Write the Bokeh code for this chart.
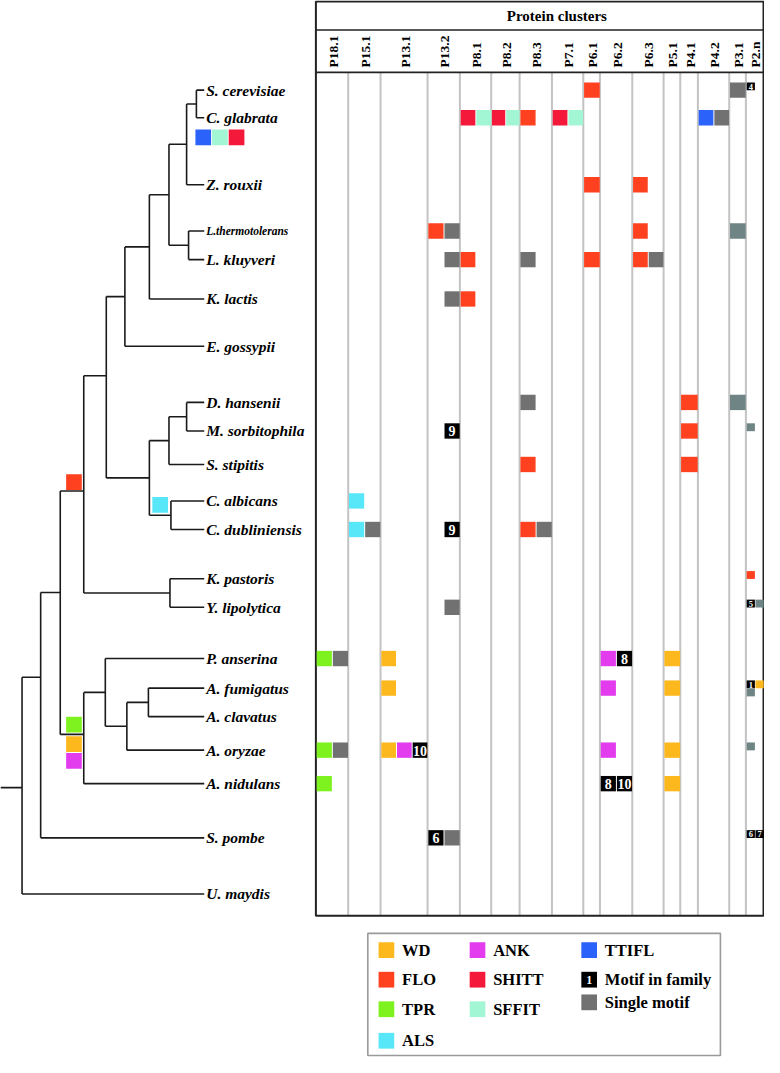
import math
from bokeh.plotting import figure
from bokeh.models import Range1d
from bokeh.embed import file_html
from bokeh.resources import INLINE
from bokeh.core.properties import value

# ---------------- data ----------------
species = ["S. cerevisiae", "C. glabrata", "Z. rouxii", "L.thermotolerans", "L. kluyveri",
           "K. lactis", "E. gossypii", "D. hansenii", "M. sorbitophila", "S. stipitis",
           "C. albicans", "C. dubliniensis", "K. pastoris", "Y. lipolytica", "P. anserina",
           "A. fumigatus", "A. clavatus", "A. oryzae", "A. nidulans", "S. pombe", "U. maydis"]

clusters = ["P18.1", "P15.1", "P13.1", "P13.2", "P8.1", "P8.2", "P8.3", "P7.1", "P6.1",
            "P6.2", "P6.3", "P5.1", "P4.1", "P4.2", "P3.1", "P2.n"]

# motif marks in the matrix: species, cluster, slot within cell, motif type, number label
mark_species = ["S. cerevisiae", "S. cerevisiae",
                "C. glabrata", "C. glabrata", "C. glabrata", "C. glabrata", "C. glabrata",
                "C. glabrata", "C. glabrata", "C. glabrata", "C. glabrata",
                "Z. rouxii", "Z. rouxii",
                "L.thermotolerans", "L.thermotolerans", "L.thermotolerans", "L.thermotolerans",
                "L. kluyveri", "L. kluyveri", "L. kluyveri", "L. kluyveri", "L. kluyveri", "L. kluyveri",
                "K. lactis", "K. lactis",
                "D. hansenii", "D. hansenii", "D. hansenii",
                "M. sorbitophila", "M. sorbitophila",
                "S. stipitis", "S. stipitis",
                "C. albicans",
                "C. dubliniensis", "C. dubliniensis", "C. dubliniensis", "C. dubliniensis", "C. dubliniensis",
                "Y. lipolytica",
                "P. anserina", "P. anserina", "P. anserina", "P. anserina", "P. anserina", "P. anserina",
                "A. fumigatus", "A. fumigatus", "A. fumigatus",
                "A. oryzae", "A. oryzae", "A. oryzae", "A. oryzae", "A. oryzae", "A. oryzae", "A. oryzae",
                "A. nidulans", "A. nidulans", "A. nidulans", "A. nidulans",
                "S. pombe", "S. pombe"]
mark_cluster = ["P6.1", "P3.1",
                "P8.1", "P8.1", "P8.2", "P8.2", "P8.3", "P7.1", "P7.1", "P4.2", "P4.2",
                "P6.1", "P6.3",
                "P13.2", "P13.2", "P6.3", "P3.1",
                "P13.2", "P8.1", "P8.3", "P6.1", "P6.3", "P6.3",
                "P13.2", "P8.1",
                "P8.3", "P4.1", "P3.1",
                "P13.2", "P4.1",
                "P8.3", "P4.1",
                "P15.1",
                "P15.1", "P15.1", "P13.2", "P8.3", "P8.3",
                "P13.2",
                "P18.1", "P18.1", "P13.1", "P6.2", "P6.2", "P5.1",
                "P13.1", "P6.2", "P5.1",
                "P18.1", "P18.1", "P13.1", "P13.1", "P13.1", "P6.2", "P5.1",
                "P18.1", "P6.2", "P6.2", "P5.1",
                "P13.2", "P13.2"]
mark_slot = [0, 0,
             0, 1, 0, 1, 0, 0, 1, 0, 1,
             0, 0,
             0, 1, 0, 0,
             1, 0, 0, 0, 0, 1,
             1, 0,
             0, 0, 0,
             1, 0,
             0, 0,
             0,
             0, 1, 1, 0, 1,
             1,
             0, 1, 0, 0, 1, 0,
             0, 0, 0,
             0, 1, 0, 1, 2, 0, 0,
             0, 0, 1, 0,
             0, 1]
mark_type = ["FLO", "single",
             "SHITT", "SFFIT", "SHITT", "SFFIT", "FLO", "SHITT", "SFFIT", "TTIFL", "single",
             "FLO", "FLO",
             "FLO", "single", "FLO", "single_b",
             "single", "FLO", "single", "FLO", "FLO", "single",
             "single", "FLO",
             "single", "FLO", "single_b",
             "family", "FLO",
             "FLO", "FLO",
             "ALS",
             "ALS", "single", "family", "FLO", "single",
             "single",
             "TPR", "single", "WD", "ANK", "family", "WD",
             "WD", "ANK", "WD",
             "TPR", "single", "WD", "ANK", "family", "ANK", "WD",
             "TPR", "family", "family", "WD",
             "family", "single"]
mark_label = ["", "",
              "", "", "", "", "", "", "", "", "",
              "", "",
              "", "", "", "",
              "", "", "", "", "", "",
              "", "",
              "", "", "",
              "9", "",
              "", "",
              "",
              "", "", "9", "", "",
              "",
              "", "", "", "", "8", "",
              "", "", "",
              "", "", "", "", "10", "", "",
              "", "8", "10", "",
              "6", ""]

# small marks in the narrow P2.n column: species, sub-column, sub-row, type, label
small_species = ["S. cerevisiae", "M. sorbitophila", "K. pastoris", "Y. lipolytica", "Y. lipolytica",
                 "A. fumigatus", "A. fumigatus", "A. fumigatus", "A. oryzae", "S. pombe", "S. pombe"]
small_col = [0, 0, 0, 0, 1, 0, 1, 0, 0, 0, 1]
small_row = [0, 0, 0, 0, 0, 0, 0, 1, 0, 0, 0]
small_type = ["family", "single_b", "FLO", "family", "single_b",
              "family", "WD", "single_b", "single_b", "family", "family"]
small_label = ["4", "", "", "5", "", "1", "", "", "", "6", "7"]

# motifs gained on tree branches
branch_type = ["TTIFL", "SFFIT", "SHITT", "FLO", "ALS", "TPR", "WD", "ANK"]

legend_keys = ["WD", "FLO", "TPR", "ALS", "ANK", "SHITT", "SFFIT", "TTIFL", "family", "single"]
legend_labels = ["WD", "FLO", "TPR", "ALS", "ANK", "SHITT", "SFFIT", "TTIFL",
                 "Motif in family", "Single motif"]

# ---------------- styles / layout ----------------
COLORS = {"WD": "#FDB81E", "FLO": "#FF4120", "TPR": "#7DF21E", "ALS": "#57E7F8",
          "ANK": "#E33CEF", "SHITT": "#F4193A", "SFFIT": "#A2F6D4", "TTIFL": "#2B62FA",
          "family": "#000000", "single": "#717171", "single_b": "#6F8484"}

SERIF = value("Liberation Serif")
ROW_Y = [91, 119, 187, 234, 263, 303, 351, 408, 437, 471, 508, 537, 587, 616,
         668, 698, 727, 761, 795, 850, 907]
COL_EDGES = [322, 355, 388, 436, 469, 501, 530, 563, 595, 612, 645, 677, 694, 712, 744, 761, 779]
PANEL_TOP, TITLE_LINE, HEAD_LINE, PANEL_BOTTOM = 1, 30, 73, 929
LEAF_X = 208
BRANCH_POS = [(199, 131), (216, 131), (233, 131), (67, 481), (155, 504), (67, 727), (67, 747), (67, 764)]

p = figure(width=764, height=1057, x_range=Range1d(0, 780), y_range=Range1d(1073, 0),
           output_backend="svg", toolbar_location=None, min_border=0,
           x_axis_location=None, y_axis_location=None)
p.grid.visible = False
p.outline_line_color = None
p.background_fill_color = "white"

# ---------------- tree ----------------
def N(x, children, y=None):
    return {"x": x, "children": children, "y": y}

tree = N(22, [
    N(41, [
        N(61, [
            N(85, [
                N(108, [
                    N(127, [
                        N(152, [
                            N(172, [
                                N(190, [N(200, ["S. cerevisiae", "C. glabrata"]), "Z. rouxii"]),
                                N(192, ["L.thermotolerans", "L. kluyveri"])]),
                            "K. lactis"]),
                        "E. gossypii"]),
                    N(152, [
                        N(172, [N(190, ["D. hansenii", "M. sorbitophila"]), "S. stipitis"]),
                        N(174, ["C. albicans", "C. dubliniensis"])])], y=381),
                N(173, ["K. pastoris", "Y. lipolytica"])], y=498),
            N(85, [
                N(107, ["P. anserina",
                        N(129, [N(151, ["A. fumigatus", "A. clavatus"]), "A. oryzae"])]),
                "A. nidulans"], y=745)], y=601),
        "S. pombe"], y=687),
    "U. maydis"], y=799)

hx0, hx1, hy = [], [], []
vx, vy0, vy1 = [], [], []

def layout(node):
    if isinstance(node, str):
        return ROW_Y[species.index(node)], LEAF_X
    ys = []
    for ch in node["children"]:
        cy, cx = layout(ch)
        hx0.append(node["x"]); hx1.append(cx); hy.append(cy)
        ys.append(cy)
    vx.append(node["x"]); vy0.append(min(ys)); vy1.append(max(ys))
    y = node["y"] if node["y"] is not None else (min(ys) + max(ys)) / 2
    return y, node["x"]

root_y, root_x = layout(tree)
hx0.append(0); hx1.append(root_x); hy.append(root_y)

p.segment(x0=hx0, y0=hy, x1=hx1, y1=hy, line_color="#1a1a1a", line_width=1.6)
p.segment(x0=vx, y0=vy0, x1=vx, y1=vy1, line_color="#1a1a1a", line_width=1.6)

leaf_y = [ROW_Y[i] for i in range(len(species))]
normal = [i for i, s in enumerate(species) if s != "L.thermotolerans"]
p.text(x=[LEAF_X + 2] * len(normal), y=[leaf_y[i] for i in normal],
       text=[species[i] for i in normal], text_font=SERIF, text_font_style="bold italic",
       text_font_size="15.5px", text_baseline="middle", text_align="left", text_color="black")
small_leaf = species.index("L.thermotolerans")
p.text(x=[LEAF_X + 2], y=[leaf_y[small_leaf]], text=["L.thermotolerans"], text_font=SERIF,
       text_font_style="bold italic", text_font_size="11.5px", text_baseline="middle",
       text_align="left", text_color="black")

# branch markers
p.quad(left=[bp[0] for bp in BRANCH_POS], right=[bp[0] + 16 for bp in BRANCH_POS],
       top=[bp[1] for bp in BRANCH_POS], bottom=[bp[1] + 16 for bp in BRANCH_POS],
       fill_color=[COLORS[t] for t in branch_type], line_color=None)

# ---------------- matrix panel ----------------
p.segment(x0=COL_EDGES[1:-1], y0=[HEAD_LINE] * (len(COL_EDGES) - 2),
          x1=COL_EDGES[1:-1], y1=[PANEL_BOTTOM] * (len(COL_EDGES) - 2),
          line_color="#c3c3c3", line_width=2)
p.segment(x0=[COL_EDGES[0]] * 2, y0=[TITLE_LINE, HEAD_LINE], x1=[COL_EDGES[-1]] * 2,
          y1=[TITLE_LINE, HEAD_LINE], line_color="#222222", line_width=1.6)
p.quad(left=[COL_EDGES[0]], right=[COL_EDGES[-1]], top=[PANEL_TOP], bottom=[PANEL_BOTTOM],
       fill_color=None, line_color="#222222", line_width=2)

p.text(x=[568], y=[16], text=["Protein clusters"], text_font=SERIF, text_font_style="bold",
       text_font_size="15px", text_align="center", text_baseline="middle", text_color="black")

col_centers = [(COL_EDGES[i] + COL_EDGES[i + 1]) / 2 + 1 for i in range(len(clusters))]
p.text(x=col_centers, y=[68] * len(clusters), text=clusters, angle=math.pi / 2,
       text_font=SERIF, text_font_style="bold", text_font_size="13.5px",
       text_align="left", text_baseline="middle", text_color="black")

def nslots(c):
    return max(1, round((COL_EDGES[c + 1] - COL_EDGES[c]) / 16.3))

ml, mr, mt, mb, mc = [], [], [], [], []
tx, ty, tt = [], [], []
for s, cl, sl, ty_, lb in zip(mark_species, mark_cluster, mark_slot, mark_type, mark_label):
    c = clusters.index(cl)
    w = (COL_EDGES[c + 1] - COL_EDGES[c]) / nslots(c)
    left = COL_EDGES[c] + sl * w + 0.8
    right = left + w - 1.0
    yc = ROW_Y[species.index(s)]
    ml.append(left); mr.append(right); mt.append(yc - 7.8); mb.append(yc + 7.8)
    mc.append(COLORS[ty_])
    if lb:
        tx.append((left + right) / 2); ty.append(yc + 0.5); tt.append(lb)
p.quad(left=ml, right=mr, top=mt, bottom=mb, fill_color=mc, line_color=None)
p.text(x=tx, y=ty, text=tt, text_font=SERIF, text_font_style="bold", text_font_size="14px",
       text_align="center", text_baseline="middle", text_color="white")

sl_, sr_, st_, sb_, sc_ = [], [], [], [], []
stx, sty, stt = [], [], []
for s, ccol, rrow, ty_, lb in zip(small_species, small_col, small_row, small_type, small_label):
    c = clusters.index("P2.n")
    w = (COL_EDGES[c + 1] - COL_EDGES[c]) / 2
    left = COL_EDGES[c] + ccol * w + 0.8
    right = left + w - 0.6
    top = ROW_Y[species.index(s)] - 7.8 + rrow * 8.2
    sl_.append(left); sr_.append(right); st_.append(top); sb_.append(top + 8)
    sc_.append(COLORS[ty_])
    if lb:
        stx.append((left + right) / 2); sty.append(top + 4.3); stt.append(lb)
p.quad(left=sl_, right=sr_, top=st_, bottom=sb_, fill_color=sc_, line_color=None)
p.text(x=stx, y=sty, text=stt, text_font=SERIF, text_font_style="bold", text_font_size="8.5px",
       text_align="center", text_baseline="middle", text_color="white")

# ---------------- legend ----------------
LEG_BOX = (375, 735, 947, 1071)
LEG_POS = [(386, 964), (386, 994), (386, 1024), (386, 1056),
           (479, 964), (479, 994), (479, 1024),
           (593, 964), (593, 994), (593, 1017)]
p.quad(left=[LEG_BOX[0]], right=[LEG_BOX[1]], top=[LEG_BOX[2]], bottom=[LEG_BOX[3]],
       fill_color="white", line_color="#9a9a9a", line_width=1.6)
p.quad(left=[lp[0] for lp in LEG_POS], right=[lp[0] + 16 for lp in LEG_POS],
       top=[lp[1] - 8 for lp in LEG_POS], bottom=[lp[1] + 8 for lp in LEG_POS],
       fill_color=[COLORS[k] for k in legend_keys], line_color=None)
fam = legend_keys.index("family")
p.text(x=[LEG_POS[fam][0] + 8], y=[LEG_POS[fam][1] + 0.5], text=["1"], text_font=SERIF,
       text_font_style="bold", text_font_size="12px", text_align="center",
       text_baseline="middle", text_color="white")
p.text(x=[lp[0] + 24 for lp in LEG_POS], y=[lp[1] for lp in LEG_POS], text=legend_labels,
       text_font=SERIF, text_font_style="bold", text_font_size="16.5px",
       text_align="left", text_baseline="middle", text_color="black")

open("out.html", "w").write(file_html(p, INLINE))
